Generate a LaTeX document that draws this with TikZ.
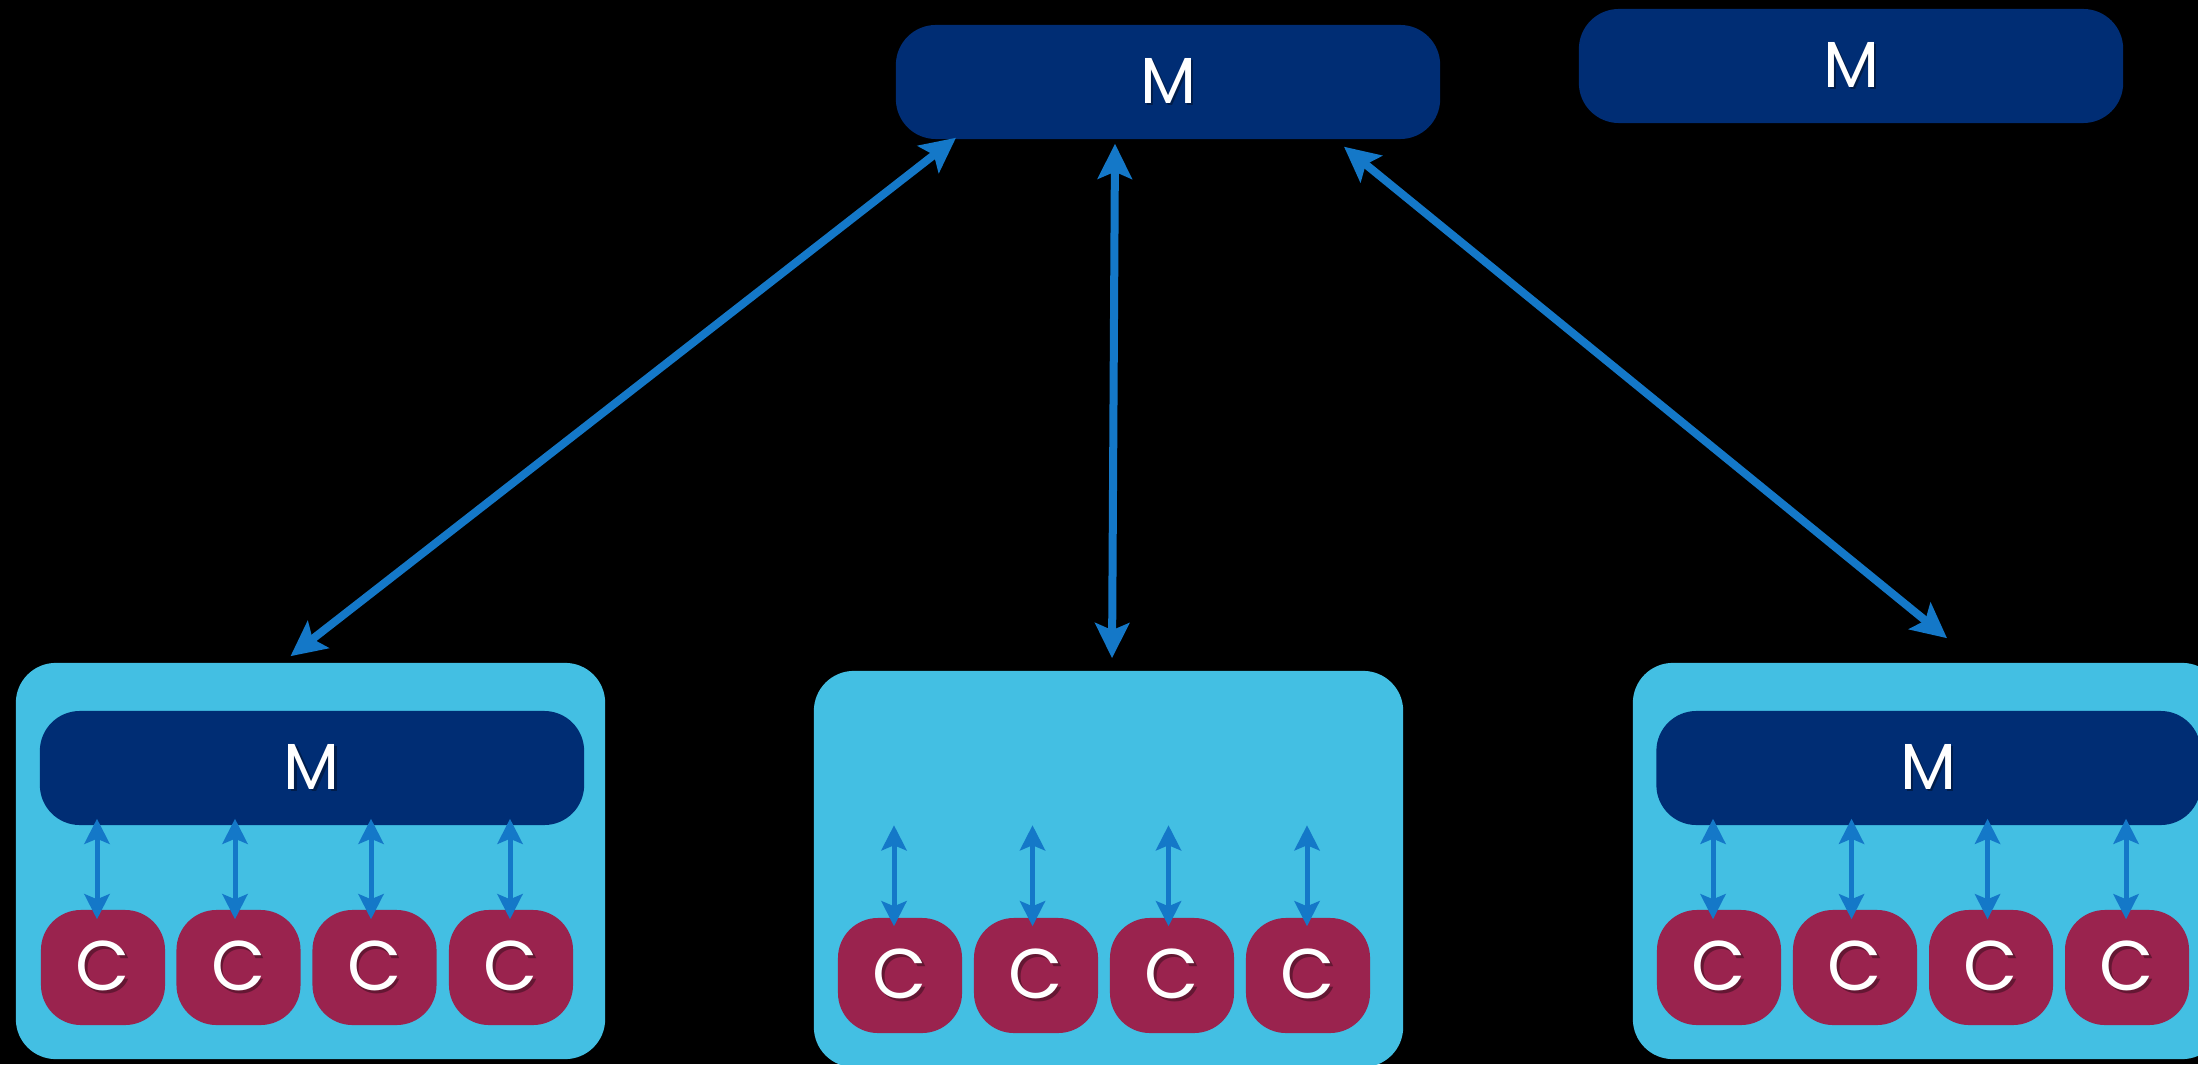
\documentclass[tikz,border=0pt]{standalone}
\usepackage{fontspec}
\setmainfont{Poppins}
\usetikzlibrary{arrows.meta,calc}

\definecolor{navy}{RGB}{0,45,116}
\definecolor{sky}{RGB}{67,191,227}
\definecolor{wine}{RGB}{154,35,78}
\definecolor{link}{RGB}{20,120,200}

% white letter with a faint drop shadow
\newcommand\shadowed[2]{\makebox[0pt][l]{\hspace{0.7pt}\raisebox{-0.7pt}{\color{#1}#2}}{\color{white}#2}}

\begin{document}
\begin{tikzpicture}[x=0.01cm, y=-0.01cm,
  box/.style={rounded corners=0.4cm, inner sep=0pt},
  mgr/.style={box, fill=navy, minimum width=5.44cm, minimum height=1.14cm, font=\fontsize{18.5}{22}\selectfont},
  ctr/.style={box, fill=wine, minimum width=1.24cm, minimum height=1.15cm, font=\fontsize{20}{24}\selectfont},
  panel/.style={rounded corners=0.4cm, inner sep=0pt, fill=sky, minimum width=5.89cm, minimum height=3.96cm},
  bigtip/.tip={Stealth[width=0.34cm, length=0.35cm, inset=0.07cm]},
  smalltip/.tip={Stealth[width=0.25cm, length=0.25cm, inset=0.05cm]},
  big/.style={draw=link, line width=0.08cm, bigtip-bigtip},
  small/.style={draw=link, line width=0.05cm, smalltip-smalltip}]

  % canvas
  \fill[black] (0,0) rectangle (2198,1064);
  \useasboundingbox (0,0) rectangle (2198,1064);

  % top-level managers
  \node[mgr] (top) at (1168,82) {\shadowed{navy!65!black}{M}};
  \node[mgr] (spare) at (1851,66) {\shadowed{navy!65!black}{M}};

  % three groups
  \node[panel] (lp) at (310.5,861) {};
  \node[panel] (mp) at (1108.5,869) {};
  \node[panel] (rp) at (1927.5,861) {};

  % group managers
  \node[mgr] (lm) at (312,768) {\shadowed{navy!65!black}{M}};
  \node[mgr] (rm) at (1928.5,768) {\shadowed{navy!65!black}{M}};

  % clients
  \foreach \i/\x in {1/103, 2/238.5, 3/374.5, 4/511}
    \node[ctr] (lc\i) at (\x,967.5) {\shadowed{wine!65!black}{C}};
  \foreach \i/\x in {1/900, 2/1036, 3/1172, 4/1308}
    \node[ctr] (mc\i) at (\x,975.5) {\shadowed{wine!65!black}{C}};
  \foreach \i/\x in {1/1719, 2/1855, 3/1991, 4/2127}
    \node[ctr] (rc\i) at (\x,967.5) {\shadowed{wine!65!black}{C}};

  % links from the top manager to the groups
  \draw[big] ($(lp.north)+(-20,-6)$) -- ($(top.south)+(-212,-2)$);
  \draw[big] ($(mp.north)+(3.5,-12)$) -- ($(top.south)+(-53,4)$);
  \draw[big] ($(rp.north)+(19.5,-24)$) -- ($(top.south)+(176,7)$);

  % links inside the groups
  \foreach \i/\d in {1/-6, 2/-3.5, 3/-3.5, 4/-1} {
    \draw[small] ($(lc\i.north)+(\d,10)$) -- ($(lc\i.north |- lm.south)+(\d,-7)$);
    \draw[small] ($(mc\i.north)+(\d,9)$) -- ($(mc\i.north)+(\d,-92)$);
    \draw[small] ($(rc\i.north)+(\d,10)$) -- ($(rc\i.north |- rm.south)+(\d,-7)$);
  }
\end{tikzpicture}
\end{document}
